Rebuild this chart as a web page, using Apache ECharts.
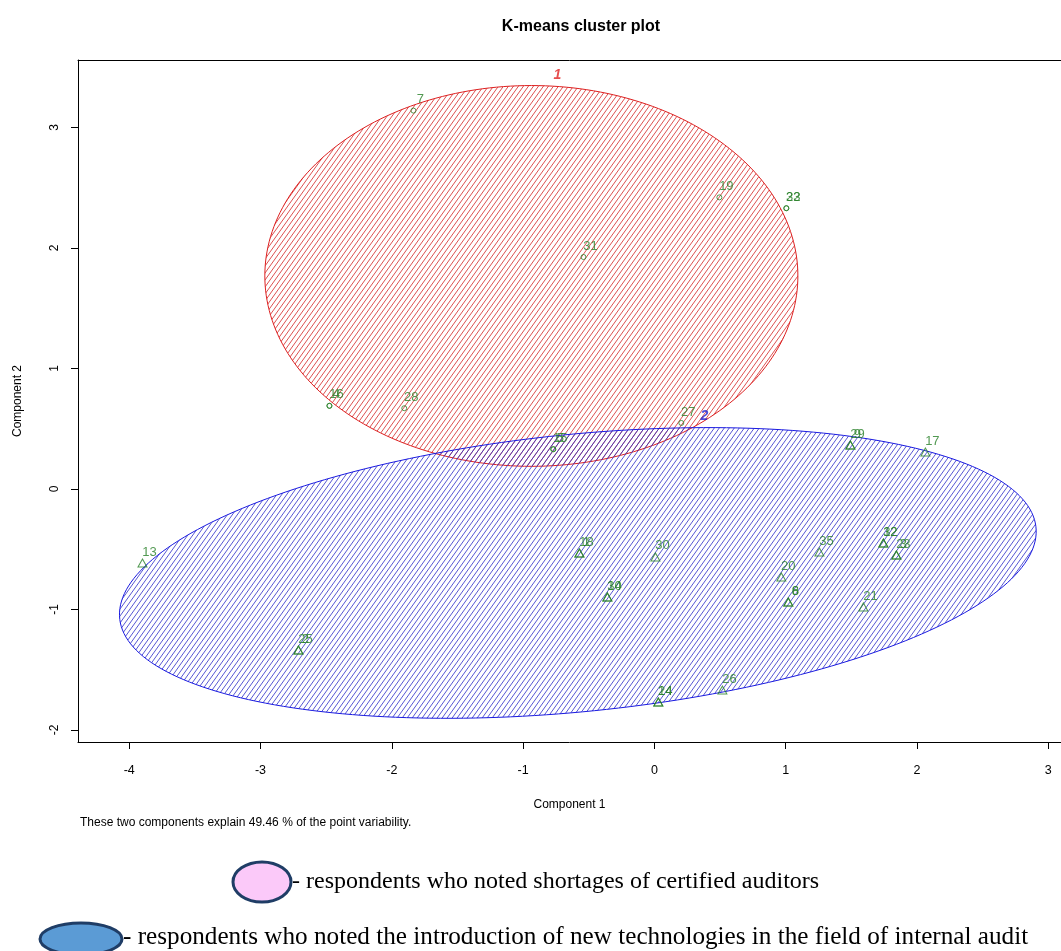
<!DOCTYPE html>
<html><head><meta charset="utf-8">
<script src="https://cdn.jsdelivr.net/npm/echarts@6/dist/echarts.min.js"></script>
<style>html,body{margin:0;padding:0;background:#fff}#c{width:1061px;height:951px}</style>
</head><body><div id="c"></div>
<script>
// ---- data ----
const cluster1Labels = ['7','19','22','33','31','4','16','28','27','5','15'];
const cluster1X = [-1.835, 0.495, 1.005, 1.005, -0.54, -2.475, -2.475, -1.905, 0.205, -0.77, -0.77];
const cluster1Y = [3.14, 2.42, 2.33, 2.33, 1.925, 0.69, 0.69, 0.67, 0.548, 0.33, 0.33];

const cluster2Labels = ['9','29','17','13','1','18','30','10','34','20','6','8','2','25','35','12','32','3','23','21','26','14','24'];
const cluster2X = [1.493, 1.493, 2.064, -3.899, -0.571, -0.571, 0.008, -0.358, -0.358, 0.967, 1.02, 1.02, -2.711, -2.711, 1.257, 1.744, 1.744, 1.843, 1.843, 1.592, 0.518, 0.03, 0.03];
const cluster2Y = [0.365, 0.365, 0.307, -0.614, -0.531, -0.531, -0.564, -0.896, -0.896, -0.73, -0.938, -0.938, -1.336, -1.336, -0.523, -0.448, -0.448, -0.548, -0.548, -0.979, -1.668, -1.768, -1.768];

// cluster ellipses: [centerX, centerY, semiAxisA, semiAxisB, rotation(rad)]
const ellipse1 = [-0.937, 1.768, 2.03, 1.58, 0.0];
const ellipse2 = [-0.583, -0.697, 3.51, 1.15, 0.11];

const clusterNames = ['1', '2'];
const clusterLabelX = [-0.739, 0.381];
const clusterLabelY = [3.436, 0.606];

const xTicks = [-4, -3, -2, -1, 0, 1, 2, 3];
const yTicks = [-2, -1, 0, 1, 2, 3];

const titleText = 'K-means cluster plot';
const xName = 'Component 1';
const yName = 'Component 2';
const footnote = 'These two components explain 49.46 % of the point variability.';
const legendTexts = ['- respondents who noted shortages of certified auditors',
  '- respondents who noted the introduction of new technologies in the field of internal audit'];

// ---- hatch patterns ----
function hatch(color, w, h, lw) {
  const c = document.createElement('canvas');
  c.width = w; c.height = h;
  const g = c.getContext('2d');
  g.strokeStyle = color; g.lineWidth = lw;
  g.beginPath();
  for (let k = -1; k <= 1; k++) {
    g.moveTo(k * w, h); g.lineTo(k * w + w, 0);
  }
  g.stroke();
  return c;
}
const redHatch = hatch('rgba(215,50,50,0.85)', 5, 7, 1);
const blueHatch = hatch('rgba(45,45,200,0.8)', 5, 7, 1);

function ellipseSeries(par, pat, stroke) {
  return {
    type: 'custom', coordinateSystem: 'cartesian2d', z: 1, silent: true,
    data: [par], encode: { x: 0, y: 1 },
    renderItem(params, api) {
      const cx = api.value(0), cy = api.value(1), a = api.value(2), b = api.value(3), t = api.value(4);
      const pts = [];
      for (let i = 0; i < 240; i++) {
        const ang = i / 240 * 2 * Math.PI;
        const u = a * Math.cos(ang), v = b * Math.sin(ang);
        pts.push(api.coord([cx + u * Math.cos(t) - v * Math.sin(t), cy + u * Math.sin(t) + v * Math.cos(t)]));
      }
      return { type: 'polygon', shape: { points: pts },
        style: { fill: { image: pat, repeat: 'repeat' }, stroke: stroke, lineWidth: 1 } };
    }
  };
}

const green = '#278027';
function pts(xs, ys, ls) { return xs.map((x, i) => ({ value: [x, ys[i]], name: ls[i] })); }
const ptLabel = { show: true, position: 'inside', offset: [7, -11], formatter: p => p.name,
  color: green, fontSize: 13, fontFamily: 'Liberation Sans, Arial' };
const axFont = { fontSize: 12, color: '#000', fontFamily: 'Liberation Sans, Arial' };

const chart = echarts.init(document.getElementById('c'), null, { renderer: 'canvas' });
chart.setOption({
  animation: false,
  backgroundColor: '#fff',
  title: { text: titleText, left: 576, top: 14, textAlign: 'center',
    textStyle: { fontSize: 16, fontWeight: 'bold', color: '#000', fontFamily: 'Liberation Sans, Arial' } },
  grid: { left: 78, top: 60, bottom: 209, right: 0, show: false, containLabel: false },
  xAxis: [{
    type: 'value', min: -4.39, max: 3.097, position: 'bottom',
    name: xName, nameLocation: 'middle', nameGap: 57,
    nameTextStyle: axFont,
    axisLine: { show: true, onZero: false, lineStyle: { color: '#000' } },
    axisTick: { show: true, length: 7, customValues: xTicks, lineStyle: { color: '#000' } },
    axisLabel: Object.assign({ customValues: xTicks, margin: 22 }, axFont, { fontSize: 12.5 }),
    splitLine: { show: false }
  }, {
    type: 'value', min: -4.39, max: 3.097, position: 'top',
    axisLine: { show: true, onZero: false, lineStyle: { color: '#000' } },
    axisTick: { show: false }, axisLabel: { show: false }, splitLine: { show: false }
  }],
  yAxis: {
    type: 'value', min: -2.10, max: 3.56,
    name: yName, nameLocation: 'middle', nameGap: 54, nameRotate: 90,
    nameTextStyle: axFont,
    axisLine: { show: true, onZero: false, lineStyle: { color: '#000' } },
    axisTick: { show: true, length: 7, customValues: yTicks, lineStyle: { color: '#000' } },
    axisLabel: Object.assign({ customValues: yTicks, rotate: 90, margin: 17 }, axFont),
    splitLine: { show: false }
  },
  series: [
    ellipseSeries(ellipse1, redHatch, '#dd2020'),
    ellipseSeries(ellipse2, blueHatch, '#1a1ae0'),
    { type: 'scatter', z: 3, symbol: 'circle', symbolSize: 5,
      itemStyle: { color: 'rgba(0,0,0,0)', borderColor: green, borderWidth: 1 },
      label: ptLabel, data: pts(cluster1X, cluster1Y, cluster1Labels) },
    { type: 'scatter', z: 3, symbol: 'triangle', symbolSize: [9, 8],
      itemStyle: { color: 'rgba(0,0,0,0)', borderColor: green, borderWidth: 1 },
      label: ptLabel, data: pts(cluster2X, cluster2Y, cluster2Labels) },
    { type: 'scatter', z: 4, symbolSize: 0.1, silent: true,
      itemStyle: { color: 'rgba(0,0,0,0)' },
      label: { show: true, position: 'inside', formatter: p => p.name, fontSize: 14, fontWeight: 'bold',
        fontStyle: 'italic', fontFamily: 'Liberation Sans, Arial' },
      data: clusterNames.map((n, i) => ({ value: [clusterLabelX[i], clusterLabelY[i]], name: n,
        label: { color: i === 0 ? '#e02020' : '#2020d0' } })) }
  ],
  graphic: [
    { type: 'text', left: 80, top: 817, style: { text: footnote, fontSize: 12, fill: '#000',
      fontFamily: 'Liberation Sans, Arial' } },
    { type: 'ellipse', shape: { cx: 262, cy: 882, rx: 29, ry: 20 },
      style: { fill: '#fbc9f9', stroke: '#1f3d66', lineWidth: 3 } },
    { type: 'text', x: 292, y: 882, style: { text: legendTexts[0], fontSize: 24, fill: '#000',
      fontFamily: 'Liberation Serif, Times New Roman', verticalAlign: 'middle', align: 'left' } },
    { type: 'ellipse', shape: { cx: 81, cy: 939, rx: 41, ry: 16 },
      style: { fill: '#5b9bd5', stroke: '#1f3d66', lineWidth: 3 } },
    { type: 'text', x: 123, y: 937, style: { text: legendTexts[1], fontSize: 25.2, fill: '#000',
      fontFamily: 'Liberation Serif, Times New Roman', verticalAlign: 'middle', align: 'left' } }
  ]
});
</script>
</body></html>
